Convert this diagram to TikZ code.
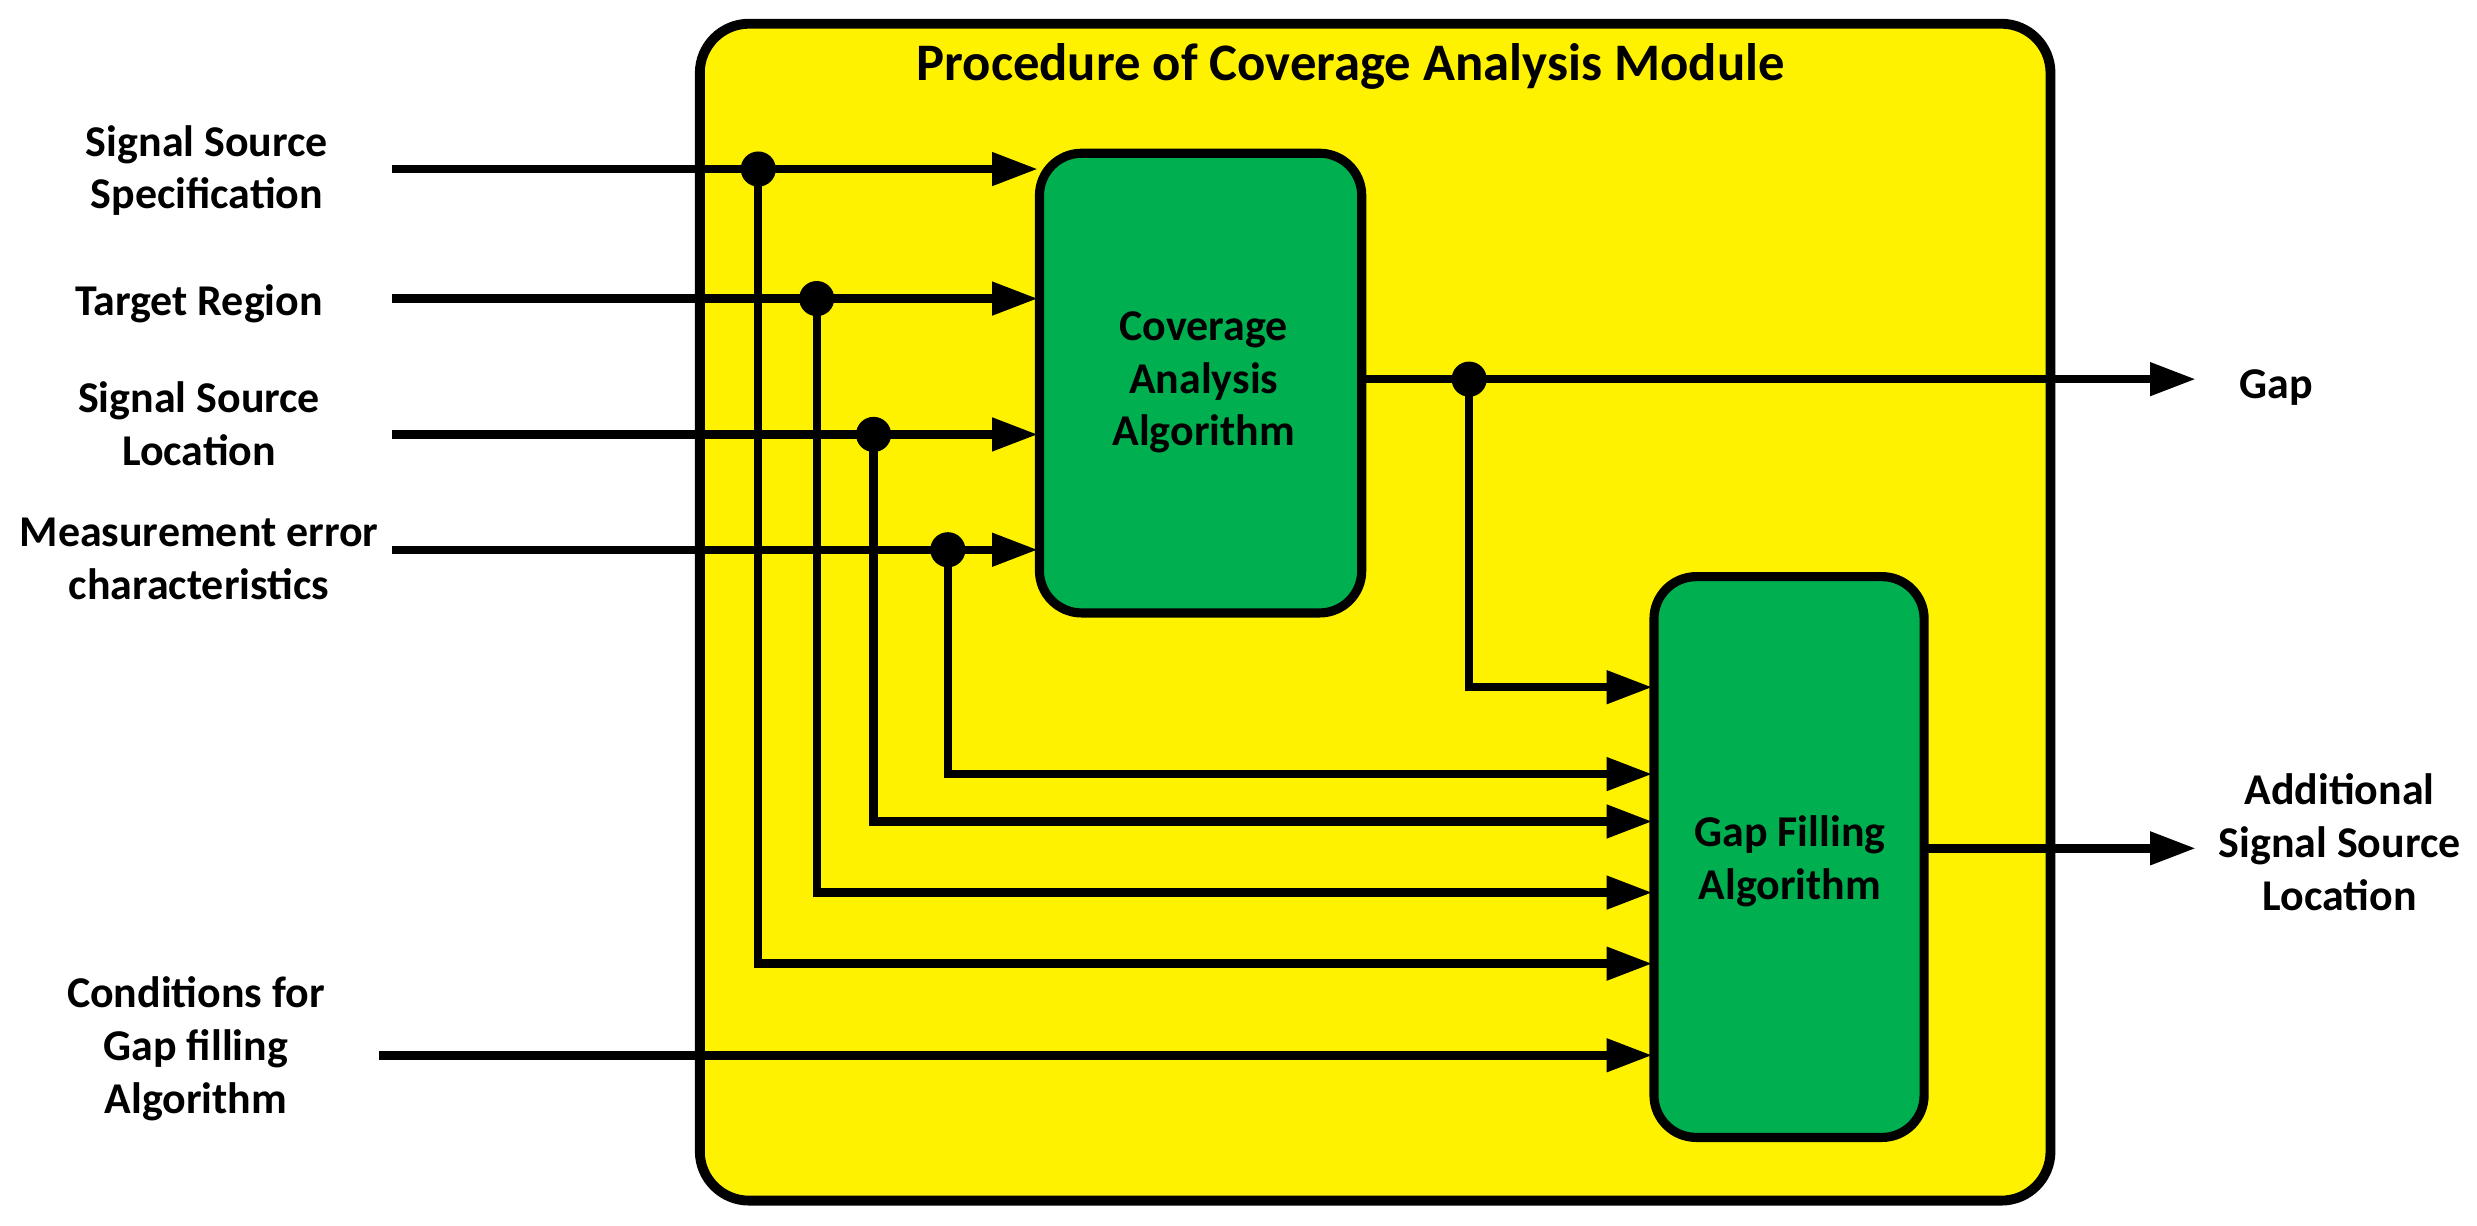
\documentclass[tikz,border=0pt]{standalone}
\usepackage{fontspec}
\setmainfont{Carlito}
\usetikzlibrary{arrows.meta}
\begin{document}
\begin{tikzpicture}[x=0.0158cm,y=-0.0158cm,
  wire/.style={line width=2.4pt},
  arr/.style={wire,-{Triangle[length=13pt,width=9pt]}},
  dot/.style={circle,fill=black,inner sep=0pt,minimum size=10pt},
  lbl/.style={align=center,font=\bfseries\fontsize{12.5}{15}\selectfont},
  blk/.style={draw,line width=2.6pt,fill=green!60!black!80,rounded corners=12pt}]
\useasboundingbox (0,0) rectangle (1568,776);
\draw[line width=2.8pt,fill=yellow,rounded corners=14pt] (443,15) rectangle (1298,760);
\node[lbl,font=\bfseries\fontsize{15}{18}\selectfont] (title) at (855,42) {Procedure of Coverage Analysis Module};
\draw[blk,fill={rgb,255:red,0;green,176;blue,80}] (658,97) rectangle (862,388);
\node[lbl] (caa) at (762,242) {Coverage\\Analysis\\Algorithm};
\draw[blk,fill={rgb,255:red,0;green,176;blue,80}] (1047,365) rectangle (1218,720);
\node[lbl] (gfa) at (1133,545) {Gap Filling\\Algorithm};
\node[lbl] (l1) at (131,108) {Signal Source\\Specification};
\node[lbl] (l2) at (126,192) {Target Region};
\node[lbl] (l3) at (126,268) {Signal Source\\Location};
\node[lbl] (l4) at (126,354) {Measurement error\\characteristics};
\node[lbl] (l5) at (124,664) {Conditions for\\Gap filling\\Algorithm};
\node[lbl] (gap) at (1441,245) {Gap};
\node[lbl] (add) at (1481,533) {Additional\\Signal Source\\Location};
% inputs
\coordinate (s1) at (248,107); \coordinate (e1) at (657,107); \node[dot] (d1) at (480,107) {};
\coordinate (s2) at (248,189); \coordinate (e2) at (657,189); \node[dot] (d2) at (517,189) {};
\coordinate (s3) at (248,275); \coordinate (e3) at (657,275); \node[dot] (d3) at (553,275) {};
\coordinate (s4) at (248,348); \coordinate (e4) at (657,348); \node[dot] (d4) at (600,348) {};
\foreach \i in {1,2,3,4} \draw[arr] (s\i) -- (e\i);
\coordinate (g1) at (1046,610); \coordinate (g2) at (1046,565);
\coordinate (g3) at (1046,520); \coordinate (g4) at (1046,490);
\draw[arr] (d1.center) |- (g1);
\draw[arr] (d2.center) |- (g2);
\draw[arr] (d3.center) |- (g3);
\draw[arr] (d4.center) |- (g4);
\coordinate (s5) at (240,668); \coordinate (g5) at (1046,668);
\draw[arr] (s5) -- (g5);
% outputs
\coordinate (o1) at (862,240); \coordinate (o1e) at (1390,240);
\node[dot] (d5) at (930,240) {};
\draw[arr] (o1) -- (o1e);
\coordinate (g6) at (1046,435);
\draw[arr] (d5.center) |- (g6);
\coordinate (o2) at (1216,537); \coordinate (o2e) at (1390,537);
\draw[arr] (o2) -- (o2e);
\end{tikzpicture}
\end{document}
